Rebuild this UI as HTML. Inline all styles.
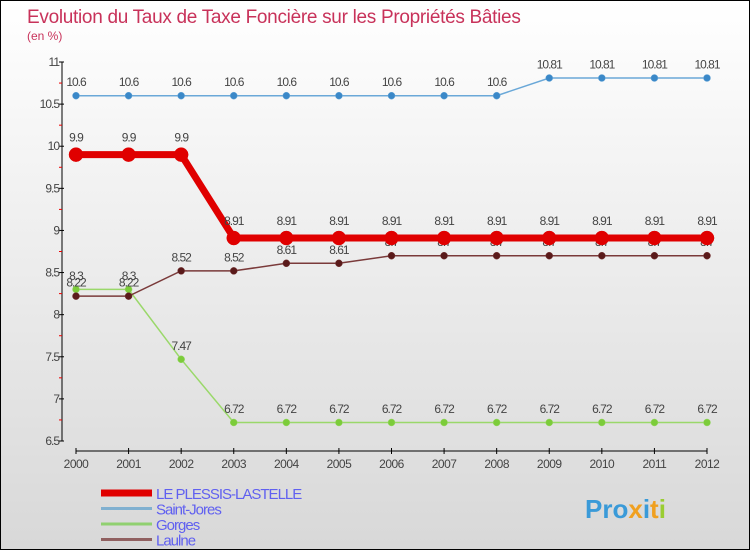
<!DOCTYPE html>
<html><head><meta charset="utf-8"><style>
body{margin:0}
#c{width:748px;height:548px;border:1px solid #000;background:linear-gradient(#fff,#d8d8d8);position:relative;font-family:"Liberation Sans",sans-serif}
</style></head><body>
<div id="c">
<svg id="s" width="748" height="548" style="position:absolute;left:0;top:0">
<text x="26" y="22" font-size="19" fill="#c8325a" letter-spacing="-0.3">Evolution du Taux de Taxe Foncière sur les Propriétés Bâties</text>
<text x="26" y="39" font-size="12" fill="#c8325a">(en %)</text>
</svg>
</div>
<script>
const years=[2000,2001,2002,2003,2004,2005,2006,2007,2008,2009,2010,2011,2012];
const plessis=[9.9,9.9,9.9,8.91,8.91,8.91,8.91,8.91,8.91,8.91,8.91,8.91,8.91];
const saintJores=[10.6,10.6,10.6,10.6,10.6,10.6,10.6,10.6,10.6,10.81,10.81,10.81,10.81];
const gorges=[8.3,8.3,7.47,6.72,6.72,6.72,6.72,6.72,6.72,6.72,6.72,6.72,6.72];
const laulne=[8.22,8.22,8.52,8.52,8.61,8.61,8.7,8.7,8.7,8.7,8.7,8.7,8.7];
const yTicks=[6.5,7,7.5,8,8.5,9,9.5,10,10.5,11];
const seriesNames=["LE PLESSIS-LASTELLE","Saint-Jores","Gorges","Laulne"];
const s=document.getElementById('s'),NS='http://www.w3.org/2000/svg';
const X=i=>75+i*(706-75)/(years.length-1);
const Y=v=>440-(v-6.5)*(440-61)/4.5;
function el(t,a,p){const e=document.createElementNS(NS,t);for(const k in a)e.setAttribute(k,a[k]);(p||s).appendChild(e);return e;}
let ax=el('line',{x1:61,y1:61,x2:61,y2:440,stroke:'#000','stroke-width':1});


yTicks.forEach((v,i)=>{
 el('line',{x1:58,x2:63,y1:Y(v),y2:Y(v),stroke:'#000'});
 if(i<yTicks.length-1)el('line',{x1:58,x2:61,y1:Y(v+0.25),y2:Y(v+0.25),stroke:'#e00'});
 const t=el('text',{x:58,y:Y(v)+4,'font-size':12,'text-anchor':'end',fill:'#444','letter-spacing':'-1'});t.textContent=v;
 
 
});
let xa=el('line',{x1:75,y1:450,x2:706,y2:450,stroke:'#000'});


years.forEach((y,i)=>{
 el('line',{x1:X(i),x2:X(i),y1:447,y2:453,stroke:'#000'});
 const t=el('text',{x:X(i),y:467,'font-size':12,'text-anchor':'middle',fill:'#444','letter-spacing':'-0.5'});t.textContent=y;
 
 
});
function series(d,name,col,dot,w,r,lblCol){
 const g=el('g',{});
 
 
 el('polyline',{points:d.map((v,i)=>X(i)+','+Y(v)).join(' '),fill:'none',stroke:col,'stroke-width':w},g);
 d.forEach((v,i)=>{
  const c=el('circle',{cx:X(i),cy:Y(v),r:r,fill:dot,stroke:col,'stroke-width':0.5},g);
  
  
  const t=el('text',{x:X(i),y:Y(v)-r-6,'font-size':12,'text-anchor':'middle',fill:lblCol,'letter-spacing':'-1'},g);t.textContent=v;
 });
}
series(gorges,'series-gorges','#9ad86a','#7ccc3a',1.5,3.5,'#444');
series(laulne,'series-laulne','#7a3a3a','#5a1a1a',1.5,3.5,'#444');
series(saintJores,'series-saint-jores','#6aa8d8','#3a88c8',1.5,3.5,'#444');
series(plessis,'series-le-plessis-lastelle','#e00000','#e00000',7,7,'#444');
const lc=['#e00000','#80b0d0','#90d070','#906060'],lw=[7,3,3,3];
seriesNames.forEach((n,i)=>{
 const y=492+i*15.5;
 const l=el('line',{x1:100,x2:151,y1:y,y2:y,stroke:lc[i],'stroke-width':lw[i]});
 
 
 const t=el('text',{x:155,y:y+6,'font-size':15,fill:'#6060f0','letter-spacing':'-1'});t.textContent=n;
 
 
});
const lg=el('text',{x:584,y:517,'font-size':26,'font-weight':'bold',fill:'#3a9ad8'});
lg.innerHTML='<tspan fill="#3a9ad8">Pro</tspan><tspan fill="#f0a020">x</tspan><tspan fill="#3a9ad8">i</tspan><tspan fill="#f0a020">t</tspan><tspan fill="#9acd32">i</tspan>';


</script>
</body></html>
